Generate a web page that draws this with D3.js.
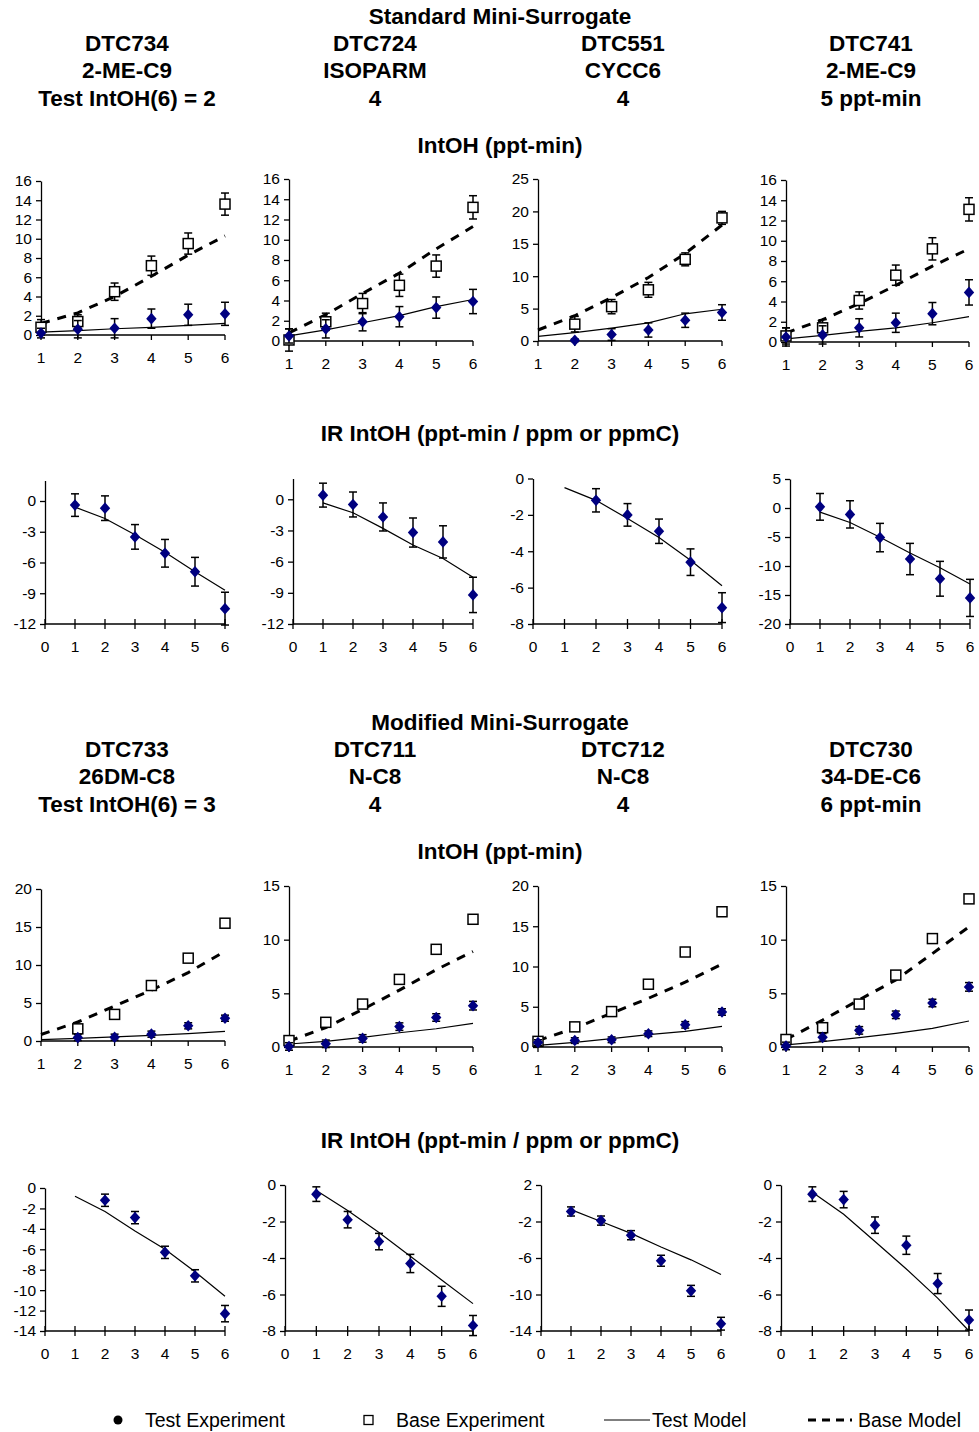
<!DOCTYPE html>
<html>
<head>
<meta charset="utf-8">
<script src="https://cdn.jsdelivr.net/npm/d3@7"></script>
<style>
  body { margin: 0; background: #fff; }
  svg text { font-family: "Liberation Sans", Arial, sans-serif; fill: #000; }
  .title { font-size: 22.5px; font-weight: bold; }
  .tick-label { font-size: 15.5px; }
  .legend-label { font-size: 19.5px; }
</style>
</head>
<body>
<svg id="svg"></svg>
<script>
// ---- data ----
const runs = [1, 2, 3, 4, 5, 6];

const stdRuns = ["DTC734", "DTC724", "DTC551", "DTC741"];
const stdCompounds = ["2-ME-C9", "ISOPARM", "CYCC6", "2-ME-C9"];
const stdScores = ["Test IntOH(6) = 2", "4", "4", "5 ppt-min"];

const modRuns = ["DTC733", "DTC711", "DTC712", "DTC730"];
const modCompounds = ["26DM-C8", "N-C8", "N-C8", "34-DE-C6"];
const modScores = ["Test IntOH(6) = 3", "4", "4", "6 ppt-min"];

// standard surrogate, IntOH (ppt-min)
const stdIntohMax = [16, 16, 25, 16];
const stdIntohStep = [2, 2, 5, 2];
const stdBaseExp = [
  [0.8, 1.4, 4.5, 7.2, 9.5, 13.6],
  [0.1, 1.9, 3.7, 5.5, 7.4, 13.2],
  [null, 2.6, 5.3, 7.9, 12.6, 19.0],
  [0.6, 1.4, 4.1, 6.6, 9.2, 13.1]
];
const stdBaseErr = [
  [0.8, 0.7, 0.9, 1.0, 1.1, 1.15],
  [1.1, 0.85, 1.0, 1.1, 1.1, 1.15],
  [null, 1.2, 1.1, 1.15, 1.0, 1.0],
  [0.8, 0.8, 0.85, 1.0, 1.1, 1.15]
];
const stdTestExp = [
  [0.2, 0.6, 0.7, 1.7, 2.1, 2.2],
  [0.5, 1.2, 1.9, 2.4, 3.3, 3.9],
  [null, 0.1, 1.0, 1.7, 3.2, 4.4],
  [0.5, 0.7, 1.4, 1.9, 2.8, 4.9]
];
const stdTestErr = [
  [0.5, 0.9, 1.0, 1.0, 1.1, 1.2],
  [0.7, 0.9, 0.9, 1.0, 1.05, 1.2],
  [null, 0.2, 0.9, 1.1, 1.1, 1.2],
  [0.9, 0.9, 0.9, 0.95, 1.1, 1.25]
];
const stdBaseModel = [
  [1.2, 2.3, 4.0, 6.1, 8.3, 10.3],
  [0.8, 2.6, 4.7, 6.7, 9.1, 11.3],
  [1.7, 3.9, 6.7, 9.8, 13.5, 17.9],
  [0.9, 2.2, 3.8, 5.6, 7.5, 9.2]
];
const stdTestModel = [
  [0.3, 0.45, 0.65, 0.8, 1.0, 1.2],
  [0.5, 1.1, 1.8, 2.5, 3.4, 4.1],
  [0.7, 1.3, 2.0, 2.8, 4.2, 4.9],
  [0.3, 0.65, 1.05, 1.4, 1.9, 2.5]
];

// standard surrogate, IR IntOH (ppt-min / ppm or ppmC)
const stdIrMin = [-12, -12, -8, -20];
const stdIrMax = [2, 2, 0, 5];
const stdIrStep = [3, 3, 2, 5];
const stdIrExp = [
  [-0.4, -0.7, -3.5, -5.1, -6.9, -10.5],
  [0.4, -0.5, -1.7, -3.2, -4.1, -9.2],
  [null, -1.2, -2.0, -2.9, -4.6, -7.1],
  [0.2, -1.1, -5.1, -8.8, -12.2, -15.5]
];
const stdIrErr = [
  [1.1, 1.2, 1.2, 1.35, 1.4, 1.6],
  [1.15, 1.2, 1.35, 1.4, 1.55, 1.7],
  [null, 0.64, 0.62, 0.67, 0.73, 0.82],
  [2.3, 2.35, 2.45, 2.7, 3.0, 3.2]
];
const stdIrModel = [
  [-0.6, -1.7, -3.3, -5.0, -6.9, -8.7],
  [-0.35, -1.3, -2.8, -4.4, -5.7, -7.5],
  [-0.5, -1.2, -2.2, -3.25, -4.5, -5.9],
  [-0.7, -2.5, -5.05, -7.75, -10.3, -13.1]
];

// modified surrogate, IntOH (ppt-min)
const modIntohMax = [20, 15, 20, 15];
const modIntohStep = [5, 5, 5, 5];
const modBaseExp = [
  [null, 1.6, 3.5, 7.3, 10.9, 15.5],
  [0.6, 2.3, 4.0, 6.3, 9.1, 11.9],
  [0.7, 2.5, 4.4, 7.8, 11.8, 16.8],
  [0.7, 1.8, 4.0, 6.7, 10.1, 13.8]
];
const modBaseErr = [
  [null, 0.4, 0.4, 0.4, 0.4, 0.4],
  [0.3, 0.3, 0.3, 0.3, 0.3, 0.3],
  [0.3, 0.4, 0.4, 0.4, 0.4, 0.4],
  [0.3, 0.35, 0.35, 0.35, 0.35, 0.35]
];
const modTestExp = [
  [null, 0.45, 0.5, 0.9, 2.0, 3.0],
  [0.05, 0.3, 0.8, 1.9, 2.75, 3.85],
  [0.55, 0.8, 0.9, 1.65, 2.75, 4.35],
  [0.1, 0.9, 1.55, 3.0, 4.1, 5.6]
];
const modTestErr = [
  [null, 0.4, 0.4, 0.4, 0.4, 0.4],
  [0.35, 0.35, 0.35, 0.35, 0.35, 0.4],
  [0.35, 0.35, 0.35, 0.35, 0.4, 0.4],
  [0.35, 0.35, 0.35, 0.35, 0.35, 0.4]
];
const modBaseModel = [
  [0.85, 2.5, 4.6, 6.7, 9.0, 11.8],
  [0.55, 1.8, 3.5, 5.3, 7.2, 8.9],
  [0.8, 2.35, 4.2, 6.05, 8.05, 10.3],
  [0.7, 2.5, 4.4, 6.25, 8.7, 11.2]
];
const modTestModel = [
  [0.18, 0.35, 0.53, 0.75, 0.97, 1.27],
  [0.28, 0.53, 0.9, 1.33, 1.7, 2.2],
  [0.2, 0.58, 1.03, 1.53, 1.94, 2.56],
  [0.2, 0.5, 0.87, 1.27, 1.74, 2.42]
];

// modified surrogate, IR IntOH
const modIrMin = [-14, -8, -14, -8];
const modIrMax = [0, 0, 2, 0];
const modIrStep = [2, 2, 4, 2];
const modIrExp = [
  [null, -1.2, -2.9, -6.3, -8.6, -12.3],
  [-0.5, -1.9, -3.1, -4.3, -6.1, -7.7],
  [-0.9, -1.9, -3.5, -6.3, -9.6, -13.2],
  [-0.5, -0.8, -2.2, -3.3, -5.4, -7.4]
];
const modIrErr = [
  [null, 0.6, 0.6, 0.6, 0.6, 0.8],
  [0.4, 0.45, 0.45, 0.5, 0.55, 0.55],
  [0.5, 0.5, 0.5, 0.6, 0.6, 0.7],
  [0.4, 0.45, 0.45, 0.5, 0.55, 0.55]
];
const modIrModel = [
  [-0.8, -2.3, -4.2, -6.0, -8.2, -10.6],
  [-0.3, -1.4, -2.6, -3.9, -5.2, -6.5],
  [-0.7, -2.0, -3.3, -4.8, -6.2, -7.8],
  [-0.4, -1.6, -3.1, -4.6, -6.2, -8.0]
];

const legendLabels = ["Test Experiment", "Base Experiment", "Test Model", "Base Model"];

// ---- layout ----
const width = 979;
const height = 1432;
const colCentres = [127, 375, 623, 871];

let svg = d3.select("#svg").attr("width", width).attr("height", height);

// diamond a little wider than d3's own symbol
const diamond = "M0,-5.8L5.2,0L0,5.8L-5.2,0Z";

function title(text, x, y) {
  svg.append("text").attr("class", "title")
    .attr("x", x).attr("y", y + 8)
    .attr("text-anchor", "middle")
    .text(text);
}

function drawHeaders(top, heading, ids, compounds, scores, sub1) {
  title(heading, 500, top);
  colCentres.forEach((cx, i) => {
    title(ids[i], cx, top + 27);
    title(compounds[i], cx, top + 54);
    title(scores[i], cx, top + 82);
  });
  title(sub1, 500, top + 129);
}

// draws one small panel
function drawPanel(p) {
  const x = d3.scaleLinear().domain(p.xDomain).range(p.xRange);
  const y = d3.scaleLinear().domain(p.yDomain).range(p.yRange);
  const g = svg.append("g");

  // y axis
  const yTicks = d3.range(p.yDomain[0], p.yDomain[1] + 0.001, p.yStep)
    .filter(v => v <= p.yTickMax);
  g.append("g")
    .attr("transform", `translate(${p.xRange[0]},0)`)
    .call(d3.axisLeft(y).tickValues(yTicks).tickFormat(d => String(d))
      .tickSize(5).tickSizeOuter(0).tickPadding(4))
    .call(a => a.select(".domain").attr("stroke", "#000").attr("stroke-width", 1.3))
    .call(a => a.selectAll(".tick line").attr("stroke", "#000").attr("stroke-width", 1.3))
    .call(a => a.selectAll("text").attr("class", "tick-label").attr("fill", "#000")
      .style("font-family", "Liberation Sans, Arial, sans-serif").style("font-size", "15.5px"));

  // x axis, ticks crossing the axis line
  const xTicks = d3.range(p.xDomain[0], p.xDomain[1] + 1);
  const xg = g.append("g").attr("transform", `translate(0,${p.xAt})`);
  xg.append("line")
    .attr("x1", p.xRange[0]).attr("x2", p.xRange[1])
    .attr("stroke", "#000").attr("stroke-width", 1.3);
  xg.selectAll(".xt").data(xTicks).enter().append("line")
    .attr("x1", d => x(d)).attr("x2", d => x(d))
    .attr("y1", -p.xTickUp).attr("y2", 5)
    .attr("stroke", "#000").attr("stroke-width", 1.3);
  xg.selectAll(".xl").data(xTicks).enter().append("text")
    .attr("class", "tick-label")
    .attr("x", d => x(d)).attr("y", 28)
    .attr("text-anchor", "middle")
    .text(d => d);

  const line = d3.line().defined(d => d[1] != null).x(d => x(d[0])).y(d => y(d[1]));

  if (p.baseModel) {
    g.append("path")
      .attr("d", line(runs.map((r, i) => [r, p.baseModel[i]])))
      .attr("fill", "none").attr("stroke", "#000")
      .attr("stroke-width", 3).attr("stroke-dasharray", "9,8");
  }
  g.append("path")
    .attr("d", line(runs.map((r, i) => [r, p.testModel[i]])))
    .attr("fill", "none").attr("stroke", "#000").attr("stroke-width", 1.2);

  function errorBars(vals, errs) {
    const pts = runs.map((r, i) => ({ r: r, v: vals[i], e: errs[i] })).filter(d => d.v != null);
    const eg = g.append("g").attr("stroke", "#000").attr("stroke-width", 1.5);
    eg.selectAll(".ev").data(pts).enter().append("line")
      .attr("x1", d => x(d.r)).attr("x2", d => x(d.r))
      .attr("y1", d => y(d.v - d.e)).attr("y2", d => y(d.v + d.e));
    [-1, 1].forEach(s => {
      eg.selectAll(".ec").data(pts).enter().append("line")
        .attr("x1", d => x(d.r) - 4).attr("x2", d => x(d.r) + 4)
        .attr("y1", d => y(d.v + s * d.e)).attr("y2", d => y(d.v + s * d.e));
    });
    return pts;
  }

  if (p.baseExp) {
    const pts = errorBars(p.baseExp, p.baseErr);
    g.selectAll(".sq").data(pts).enter().append("rect")
      .attr("x", d => x(d.r) - 5).attr("y", d => y(d.v) - 5)
      .attr("width", 10).attr("height", 10)
      .attr("fill", "#fff").attr("stroke", "#000").attr("stroke-width", 1.5);
  }
  const tpts = errorBars(p.testExp, p.testErr);
  g.selectAll(".dm").data(tpts).enter().append("path")
    .attr("transform", d => `translate(${x(d.r)},${y(d.v)})`)
    .attr("d", diamond)
    .attr("fill", "#000080");
}

// standard block
drawHeaders(16, "Standard Mini-Surrogate", stdRuns, stdCompounds, stdScores, "IntOH (ppt-min)");

const intohX = [[41, 225], [289, 473], [538, 722], [786, 969]];
const stdIntohY = [[335, 181], [341, 179], [341, 179], [342, 180]];
const irX = [[45, 225], [293, 473], [533, 722], [790, 970]];
const stdIrY = [[624, 480.5], [624, 478.5], [624, 478.5], [624, 479]];

for (let i = 0; i < 4; i++) {
  drawPanel({
    xDomain: [1, 6], xRange: intohX[i],
    yDomain: [0, stdIntohMax[i]], yRange: stdIntohY[i], yStep: stdIntohStep[i], yTickMax: stdIntohMax[i],
    xAt: stdIntohY[i][0], xTickUp: 0,
    baseExp: stdBaseExp[i], baseErr: stdBaseErr[i], testExp: stdTestExp[i], testErr: stdTestErr[i],
    baseModel: stdBaseModel[i], testModel: stdTestModel[i]
  });
}
title("IR IntOH (ppt-min / ppm or ppmC)", 500, 433);
for (let i = 0; i < 4; i++) {
  drawPanel({
    xDomain: [0, 6], xRange: irX[i],
    yDomain: [stdIrMin[i], stdIrMax[i]], yRange: stdIrY[i], yStep: stdIrStep[i],
    yTickMax: stdIrMax[i] === 2 ? 0 : stdIrMax[i],
    xAt: stdIrY[i][0], xTickUp: 5,
    testExp: stdIrExp[i], testErr: stdIrErr[i], testModel: stdIrModel[i]
  });
}

// modified block
drawHeaders(722, "Modified Mini-Surrogate", modRuns, modCompounds, modScores, "IntOH (ppt-min)");

const modIntohY = [[1041, 889], [1047, 886], [1047, 886], [1047, 886]];
const modIrX = [[45, 225], [285, 473], [541, 721], [781, 969]];
const modIrY = [[1331, 1188], [1331, 1185], [1331, 1185], [1331, 1185]];

for (let i = 0; i < 4; i++) {
  drawPanel({
    xDomain: [1, 6], xRange: intohX[i],
    yDomain: [0, modIntohMax[i]], yRange: modIntohY[i], yStep: modIntohStep[i], yTickMax: modIntohMax[i],
    xAt: modIntohY[i][0], xTickUp: 0,
    baseExp: modBaseExp[i], baseErr: modBaseErr[i], testExp: modTestExp[i], testErr: modTestErr[i],
    baseModel: modBaseModel[i], testModel: modTestModel[i]
  });
}
title("IR IntOH (ppt-min / ppm or ppmC)", 500, 1140);
for (let i = 0; i < 4; i++) {
  drawPanel({
    xDomain: [0, 6], xRange: modIrX[i],
    yDomain: [modIrMin[i], modIrMax[i]], yRange: modIrY[i], yStep: modIrStep[i], yTickMax: modIrMax[i],
    xAt: modIrY[i][0], xTickUp: 5,
    testExp: modIrExp[i], testErr: modIrErr[i], testModel: modIrModel[i]
  });
}

// legend
const leg = svg.append("g");
leg.append("circle").attr("cx", 118).attr("cy", 1420).attr("r", 4.5).attr("fill", "#000");
leg.append("rect").attr("x", 364).attr("y", 1415.5).attr("width", 9).attr("height", 9)
  .attr("fill", "#fff").attr("stroke", "#000").attr("stroke-width", 1.3);
leg.append("line").attr("x1", 604).attr("x2", 650).attr("y1", 1420).attr("y2", 1420)
  .attr("stroke", "#000").attr("stroke-width", 1);
leg.append("line").attr("x1", 808).attr("x2", 852).attr("y1", 1420).attr("y2", 1420)
  .attr("stroke", "#000").attr("stroke-width", 3).attr("stroke-dasharray", "8,6");
[145, 396, 652, 858].forEach((lx, i) => {
  leg.append("text").attr("class", "legend-label")
    .attr("x", lx).attr("y", 1427).text(legendLabels[i]);
});
</script>
</body>
</html>
